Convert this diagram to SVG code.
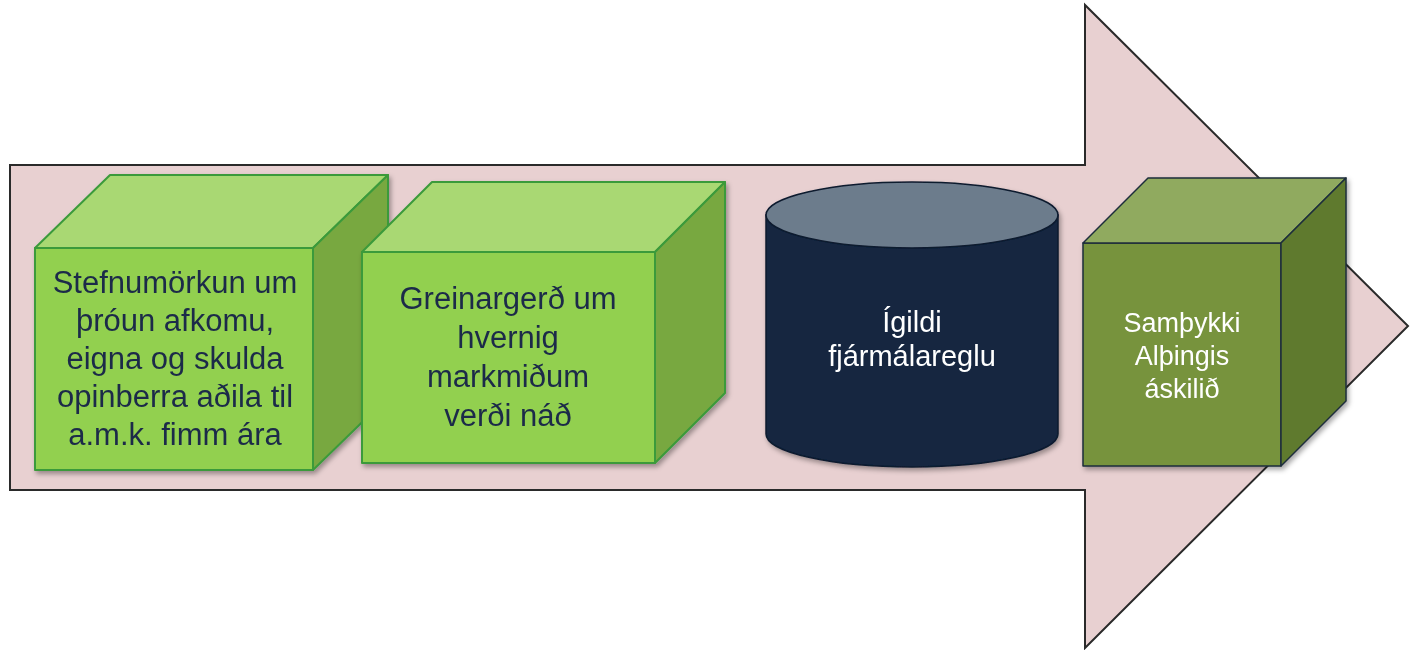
<svg xmlns="http://www.w3.org/2000/svg" width="1412" height="650" viewBox="0 0 1412 650">
<defs>
<filter id="sh" x="-10%" y="-10%" width="130%" height="130%"><feDropShadow dx="2" dy="3" stdDeviation="2.5" flood-color="#000" flood-opacity="0.35"/></filter>
<style>
.gf{fill:#92d050}.gt{fill:#a9d873}.gs{fill:#78a840}
.gstroke{stroke:#3b9a3b;stroke-width:2;stroke-linejoin:round}
.of{fill:#77933c}.ot{fill:#90aa5e}.os{fill:#5f7a2e}
.ostroke{stroke:#1e2d3b;stroke-width:1.5;stroke-linejoin:round}
.t{font-family:"Liberation Sans",Arial,sans-serif;text-anchor:middle}
.dk{fill:#1b2a48;font-size:31px}
.wh{fill:#ffffff}
</style>
</defs>
<rect width="1412" height="650" fill="#ffffff"/>
<g id="arrow">
<path d="M10,165 H1085 V5 L1408,326 L1085,648 V490 H10 Z" fill="#e8d0d1" stroke="#2a2a2a" stroke-width="2" stroke-linejoin="miter"/>
</g>
<g id="connectors"></g>
<g id="node1" filter="url(#sh)">
<path class="gf gstroke" d="M35,248 H313 V470 H35 Z"/>
<path class="gt gstroke" d="M35,248 L110,175 H388 L313,248 Z"/>
<path class="gs gstroke" d="M313,248 L388,175 V397 L313,470 Z"/>
<text class="t dk" x="175" y="293">Stefnumörkun um</text>
<text class="t dk" x="175" y="331">þróun afkomu,</text>
<text class="t dk" x="175" y="369">eigna og skulda</text>
<text class="t dk" x="175" y="407">opinberra aðila til</text>
<text class="t dk" x="175" y="445">a.m.k. fimm ára</text>
</g>
<g id="node2" filter="url(#sh)">
<path class="gf gstroke" d="M362,252 H655 V463 H362 Z"/>
<path class="gt gstroke" d="M362,252 L432,182 H725 L655,252 Z"/>
<path class="gs gstroke" d="M655,252 L725,182 V393 L655,463 Z"/>
<text class="t dk" x="508" y="309">Greinargerð um</text>
<text class="t dk" x="508" y="348">hvernig</text>
<text class="t dk" x="508" y="387">markmiðum</text>
<text class="t dk" x="508" y="426">verði náð</text>
</g>
<g id="node3" filter="url(#sh)">
<path d="M766,215 V434 A146,33 0 0 0 1058,434 V215 Z" fill="#132641" stroke="#0d1a2e" stroke-width="1.5"/>
<ellipse cx="912" cy="215" rx="146" ry="33" fill="#6c7b8c" stroke="#0d1a2e" stroke-width="1.5"/>
<text class="t wh" x="912" y="332" font-size="29">Ígildi</text>
<text class="t wh" x="912" y="366" font-size="29">fjármálareglu</text>
</g>
<g id="node4" filter="url(#sh)">
<path class="of ostroke" d="M1083,243 H1281 V466 H1083 Z"/>
<path class="ot ostroke" d="M1083,243 L1148,178 H1346 L1281,243 Z"/>
<path class="os ostroke" d="M1281,243 L1346,178 V401 L1281,466 Z"/>
<text class="t wh" x="1182" y="332" font-size="27">Samþykki</text>
<text class="t wh" x="1182" y="365" font-size="27">Alþingis</text>
<text class="t wh" x="1182" y="398" font-size="27">áskilið</text>
</g>
</svg>
